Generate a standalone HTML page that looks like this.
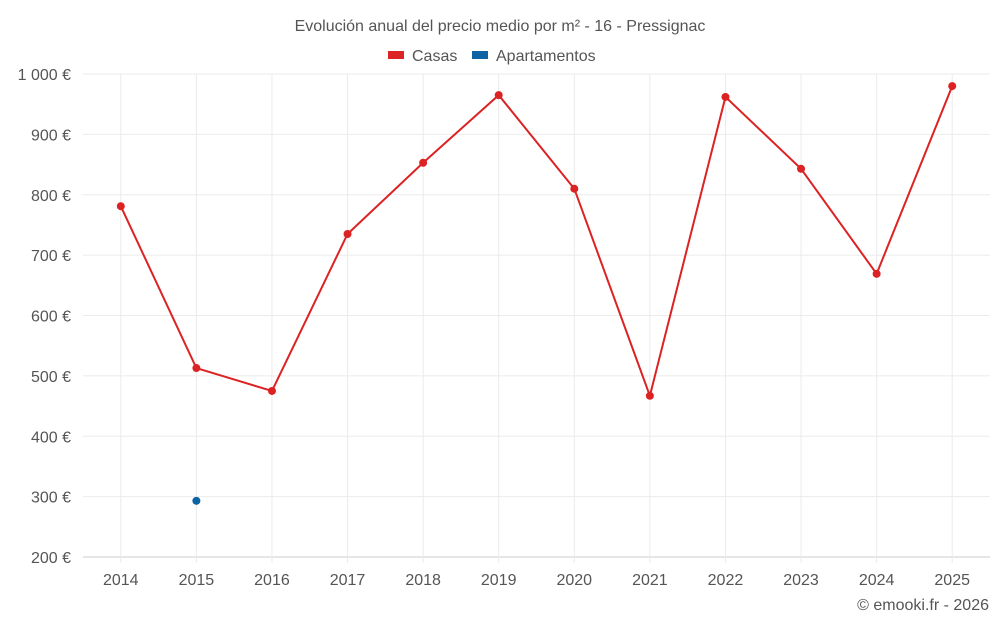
<!DOCTYPE html>
<html><head><meta charset="utf-8">
<style>
body{margin:0;background:#fff;font-family:"Liberation Sans",sans-serif;}
svg text{font-family:"Liberation Sans",sans-serif;fill:#555;}
</style></head>
<body>
<svg id="chart" width="1000" height="625">
<text x="500" y="31" text-anchor="middle" font-size="16">Evolución anual del precio medio por m² - 16 - Pressignac</text>
<g>
<g><rect x="388" y="51" width="16" height="8" fill="#dc2223"/><text x="412" y="61" font-size="16">Casas</text></g>
<g><rect x="472" y="51" width="16" height="8" fill="#0d64a5"/><text x="496" y="61" font-size="16">Apartamentos</text></g>
</g>
<g id="grid"></g><g id="axes"></g><g id="marks"></g>
<text x="989" y="610" text-anchor="end" font-size="16">© emooki.fr - 2026</text>
</svg>
<script>
const years=["2014","2015","2016","2017","2018","2019","2020","2021","2022","2023","2024","2025"];
const casas=[781,513,475,735,853,965,810,467,962,843,669,980];
const apartamentos=[null,293,null,null,null,null,null,null,null,null,null,null];
const yTicks=[200,300,400,500,600,700,800,900,1000];
const yLabels=["200 €","300 €","400 €","500 €","600 €","700 €","800 €","900 €","1 000 €"];
const L=83,R=990,T=74,B=557,ymin=200,ymax=1000;
const step=(R-L)/years.length;
const x=i=>L+step*(i+0.5);
const y=v=>B-(v-ymin)/(ymax-ymin)*(B-T);
const NS="http://www.w3.org/2000/svg";
function mk(tag,attrs,parent){const e=document.createElementNS(NS,tag);for(const k in attrs)e.setAttribute(k,attrs[k]);parent.appendChild(e);return e;}
const grid=document.getElementById('grid'),axes=document.getElementById('axes'),marks=document.getElementById('marks');
yTicks.forEach((t,i)=>{
 const g=mk('line',{x1:L,x2:R,y1:y(t),y2:y(t),stroke:t===ymin?'#ccc':'#ebebeb'},grid);
 
 
 const tx=mk('text',{x:71,y:y(t)+6,'text-anchor':'end','font-size':16},axes);
 tx.textContent=yLabels[i];
 
 
});
years.forEach((yr,i)=>{
 const g=mk('line',{x1:x(i),x2:x(i),y1:T,y2:B+6,stroke:'#ebebeb'},grid);
 
 
 const tx=mk('text',{x:x(i),y:585,'text-anchor':'middle','font-size':16},axes);
 tx.textContent=yr;
 
 
});
const pts=casas.map((v,i)=>v==null?null:x(i)+','+y(v)).filter(p=>p);
const pl=mk('polyline',{points:pts.join(' '),fill:'none',stroke:'#dc2223','stroke-width':2},marks);


casas.forEach((v,i)=>{if(v==null)return;
 const c=mk('circle',{cx:x(i),cy:y(v),r:4,fill:'#dc2223'},marks);
 
 
});
apartamentos.forEach((v,i)=>{if(v==null)return;
 const c=mk('circle',{cx:x(i),cy:y(v),r:4,fill:'#0d64a5'},marks);
 
 
});
</script>
</body></html>
